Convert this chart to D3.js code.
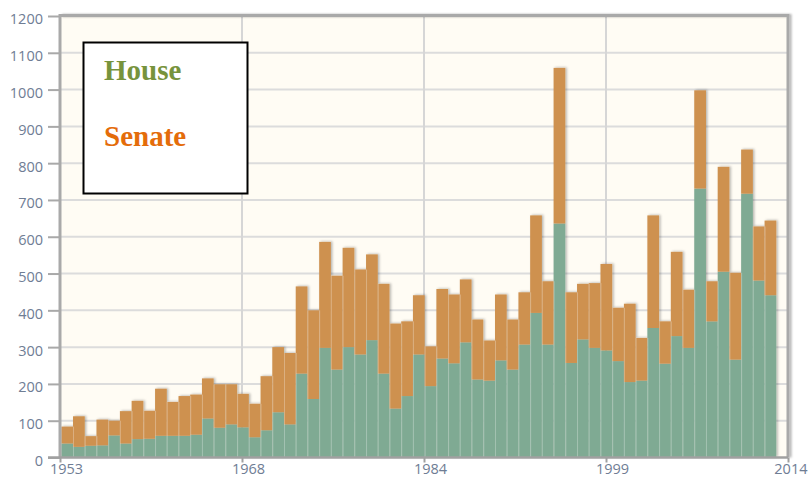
<!DOCTYPE html>
<html>
<head>
<meta charset="utf-8">
<script src="https://cdn.jsdelivr.net/npm/d3@7/dist/d3.min.js"></script>
<style>
  html, body { margin: 0; padding: 0; background: #ffffff; }
  svg { display: block; }
</style>
</head>
<body>
<script>
// Yearly counts, 1953–2013, stacked: House at the bottom, Senate on top
const years = [1953,1954,1955,1956,1957,1958,1959,1960,1961,1962,1963,1964,1965,1966,1967,1968,1969,1970,1971,1972,
  1973,1974,1975,1976,1977,1978,1979,1980,1981,1982,1983,1984,1985,1986,1987,1988,1989,1990,1991,1992,
  1993,1994,1995,1996,1997,1998,1999,2000,2001,2002,2003,2004,2005,2006,2007,2008,2009,2010,2011,2012,2013];
const house = [38,29,32,33,60,38,50,51,59,59,59,62,106,81,90,82,55,74,123,90,
  228,159,298,239,300,280,319,228,133,167,280,194,269,256,313,212,209,264,239,307,
  393,307,636,257,321,298,291,262,205,209,352,255,330,298,731,370,505,266,717,481,441];
const senate = [46,83,26,70,40,88,104,76,128,92,108,109,109,118,109,91,91,147,177,194,
  237,241,288,255,270,231,233,244,231,203,161,108,189,187,171,163,109,179,136,142,
  265,172,423,192,151,176,235,145,213,116,306,115,229,158,267,109,285,236,120,147,203];
const yTicks = [0,100,200,300,400,500,600,700,800,900,1000,1100,1200];
const xTickLabels = ["1953","1968","1984","1999","2014"];
const seriesNames = ["House","Senate"];

const W = 808, H = 477;
const plot = { left: 60, right: 788, top: 16, bottom: 457.5 };
const colors = { House: "#7faa93", Senate: "#ce914f" };
const legendColors = { House: "#77933c", Senate: "#e46c0a" };

const svg = d3.select("body").append("svg").attr("width", W).attr("height", H);

const defs = svg.append("defs");
const shadow = defs.append("filter").attr("id", "barShadow")
  .attr("x", "-20%").attr("y", "-5%").attr("width", "160%").attr("height", "110%");
shadow.append("feDropShadow").attr("dx", 1.5).attr("dy", -0.5)
  .attr("stdDeviation", 1).attr("flood-color", "#000").attr("flood-opacity", 0.28);
const frameShadow = defs.append("filter").attr("id", "frameShadow")
  .attr("x", "-5%").attr("y", "-5%").attr("width", "110%").attr("height", "110%");
frameShadow.append("feDropShadow").attr("dx", 2).attr("dy", 0)
  .attr("stdDeviation", 1.2).attr("flood-color", "#000").attr("flood-opacity", 0.3);

const y = d3.scaleLinear().domain([0, 1200]).range([plot.bottom, plot.top]);
// time axis spans 1953–2014 with four equal intervals
const xTime = d3.scaleLinear().domain([1953, 2014]).range([plot.left, plot.right]);
const xTickValues = d3.range(5).map(i => 1953 + i * (2014 - 1953) / 4);
const xBand = d3.scaleBand().domain(years).range([61.3, 776.3]).padding(0);

// plot background
svg.append("rect").attr("x", plot.left).attr("y", plot.top)
  .attr("width", plot.right - plot.left).attr("height", plot.bottom - plot.top)
  .attr("fill", "#fffcf4");

// grid lines
const grid = svg.append("g");
grid.selectAll("line.h").data(yTicks.slice(1, -1)).join("line")
  .attr("x1", plot.left).attr("x2", plot.right)
  .attr("y1", d => y(d)).attr("y2", d => y(d))
  .attr("stroke", "#dcdcdc").attr("stroke-width", 2);
grid.selectAll("line.v").data(xTickValues.slice(1, -1)).join("line")
  .attr("x1", d => xTime(d)).attr("x2", d => xTime(d))
  .attr("y1", plot.top).attr("y2", plot.bottom)
  .attr("stroke", "#d6d6d6").attr("stroke-width", 2);

// stacked bars
const rows = years.map((yr, i) => ({ year: yr, House: house[i], Senate: senate[i] }));
const stacked = d3.stack().keys(seriesNames)(rows);
const bars = svg.append("g").attr("filter", "url(#barShadow)");
bars.selectAll("g").data(stacked).join("g")
  .attr("fill", d => colors[d.key])
  .selectAll("rect").data(d => d).join("rect")
  .attr("x", d => xBand(d.data.year))
  .attr("y", d => y(d[1]))
  .attr("width", xBand.bandwidth())
  .attr("height", d => y(d[0]) - y(d[1]));
// faint light seams between neighbouring bars
svg.append("g").selectAll("line").data(years.slice(1)).join("line")
  .attr("x1", d => xBand(d) + 0.5).attr("x2", d => xBand(d) + 0.5)
  .attr("y1", (d, i) => y(Math.min(house[i] + senate[i], house[i + 1] + senate[i + 1])))
  .attr("y2", plot.bottom)
  .attr("stroke", "#ffffff").attr("stroke-opacity", 0.28).attr("stroke-width", 1);

// frame: top and right edges
svg.append("path")
  .attr("d", `M${plot.left},${plot.top - 0.5} H${plot.right} V${plot.bottom}`)
  .attr("fill", "none").attr("stroke", "#a9a9a9").attr("stroke-width", 3)
  .attr("filter", "url(#frameShadow)");

// y axis
const yAxis = svg.append("g").attr("transform", `translate(${plot.left},0)`)
  .call(d3.axisLeft(y).tickValues(yTicks).tickSize(12).tickPadding(5).tickFormat(d3.format("d")));
yAxis.select(".domain").attr("stroke", "#a9a9a9").attr("stroke-width", 3)
  .attr("d", `M0,${plot.top - 2}V${plot.bottom}`);
yAxis.selectAll(".tick line").attr("stroke", "#a9a9a9").attr("stroke-width", 2);
yAxis.selectAll(".tick text")
  .attr("fill", "#6f7d94").attr("dy", "0.55em")
  .style("font-family", "'Open Sans', sans-serif").style("font-size", "14.5px");

// x axis
const xAxis = svg.append("g").attr("transform", `translate(0,${plot.bottom})`)
  .call(d3.axisBottom(xTime).tickValues(xTickValues).tickSize(5).tickPadding(1)
    .tickFormat((d, i) => xTickLabels[i]));
xAxis.select(".domain").attr("stroke", "#a0a0a0").attr("stroke-width", 2.5)
  .attr("d", `M${plot.left - 12},0H${plot.right}`);
xAxis.selectAll(".tick line").attr("stroke", "#a0a0a0").attr("stroke-width", 2);
xAxis.selectAll(".tick text")
  .attr("fill", "#6f7d94").attr("dx", 6)
  .style("font-family", "'Open Sans', sans-serif").style("font-size", "14.5px");
// the last label sits against the right edge, so anchor it at its end
xAxis.selectAll(".tick text").filter((d, i) => i === xTickValues.length - 1)
  .attr("text-anchor", "end").attr("dx", W - 1 - plot.right);

// legend box
const legend = svg.append("g");
legend.append("rect").attr("x", 83.5).attr("y", 42.5).attr("width", 164).attr("height", 151)
  .attr("fill", "#ffffff").attr("stroke", "#000").attr("stroke-width", 2);
legend.selectAll("text").data(seriesNames).join("text")
  .attr("x", 104).attr("y", (d, i) => 80 + i * 66)
  .attr("fill", d => legendColors[d])
  .style("font-family", "'Liberation Serif', 'Times New Roman', serif")
  .style("font-weight", "bold").style("font-size", "29px")
  .text(d => d);
</script>
</body>
</html>
